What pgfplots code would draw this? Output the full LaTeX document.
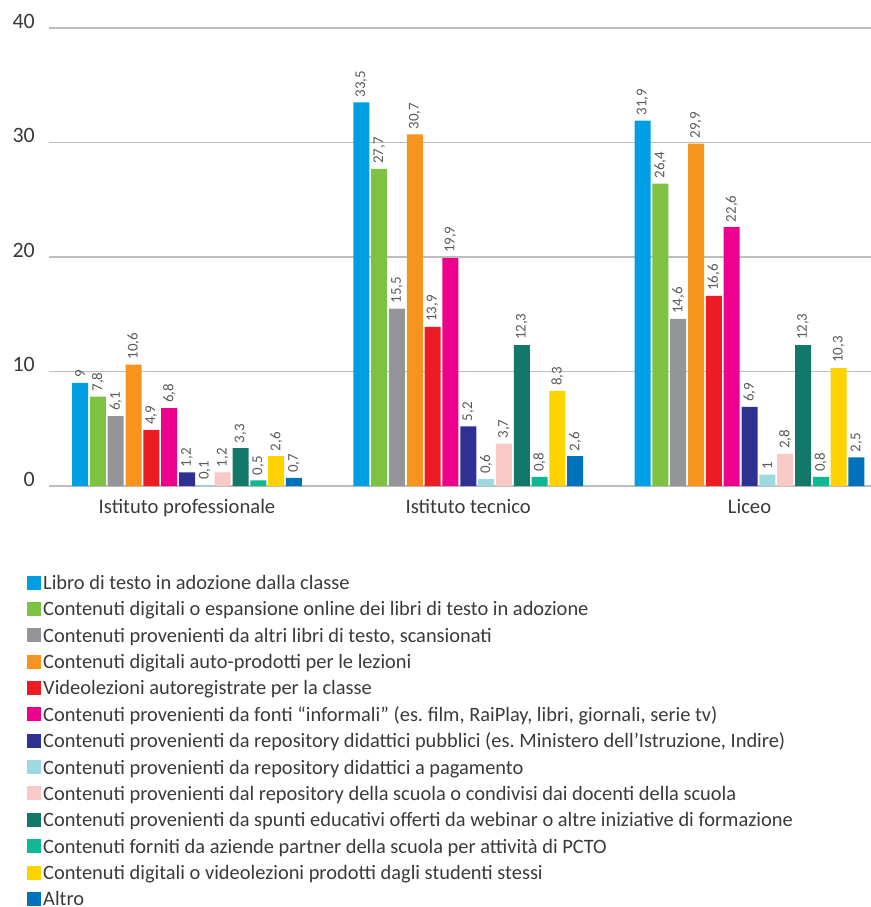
\documentclass[border=0pt]{standalone}
\usepackage{pgfplots}
\pgfplotsset{compat=1.18}
\usepackage{fontspec}
\setmainfont{Carlito}
\definecolor{c1}{HTML}{009FE3}
\definecolor{c2}{HTML}{7DC243}
\definecolor{c3}{HTML}{939598}
\definecolor{c4}{HTML}{F7941D}
\definecolor{c5}{HTML}{ED1C24}
\definecolor{c6}{HTML}{EC008C}
\definecolor{c7}{HTML}{2E3192}
\definecolor{c8}{HTML}{9ED8E0}
\definecolor{c9}{HTML}{F9C9C7}
\definecolor{c10}{HTML}{13776A}
\definecolor{c11}{HTML}{10B795}
\definecolor{c12}{HTML}{FFD200}
\definecolor{c13}{HTML}{0072BC}
\definecolor{txt}{HTML}{3A3A3A}
\definecolor{vtxt}{HTML}{5A5A5A}
\definecolor{grd}{HTML}{BDBDBD}
\begin{document}
\begin{tikzpicture}
\useasboundingbox (-49bp,-421bp) rectangle (822bp,486bp);
\begin{axis}[
  at={(0,0)}, anchor=south west,
  scale only axis, width=822bp, height=458bp,
  xmin=-0.4907, xmax=2.432, ymin=0, ymax=40,
  ybar=1.83bp, bar width=16bp,
  xtick=data, xticklabels={Istituto professionale, Istituto tecnico, Liceo},
  ytick={0,10,20,30,40},
  ymajorgrids, grid style={grd, line width=1.4bp},
  axis line style={draw=none},
  major tick length=0pt,
  tick label style={font=\fontsize{20.7}{22}\selectfont, text=txt},
  yticklabel style={anchor=base east, inner sep=0pt, xshift=-14bp, font=\fontsize{22}{24}\selectfont},
  xticklabel style={anchor=base, inner sep=0pt, yshift=-27.3bp},
  /pgf/number format/.cd, use comma, fixed, precision=1, assume math mode=true,
  /pgfplots/.cd,
  nodes near coords,
  every node near coord/.append style={rotate=90, anchor=west, inner xsep=5bp, inner ysep=0pt, font=\fontsize{15}{16}\selectfont, text=vtxt},
  legend cell align=left,
  legend image code/.code={\fill[#1] (0bp,-6.5bp) rectangle (14bp,7.5bp);},
  legend style={at={(0,0)}, anchor=north west, xshift=-22bp, yshift=-89.3bp,
    draw=none, fill=none, inner sep=0pt, row sep=11.37bp,
    font=\fontsize{20.5}{22}\selectfont, text=txt,
    cells={anchor=west},
    nodes={inner xsep=2bp, inner ysep=0pt, text height=14bp, text depth=1bp}},
]
\addplot[fill=c1, draw=none] coordinates {(0,9) (1,33.5) (2,31.9)};
\addplot[fill=c2, draw=none] coordinates {(0,7.8) (1,27.7) (2,26.4)};
\addplot[fill=c3, draw=none] coordinates {(0,6.1) (1,15.5) (2,14.6)};
\addplot[fill=c4, draw=none] coordinates {(0,10.6) (1,30.7) (2,29.9)};
\addplot[fill=c5, draw=none] coordinates {(0,4.9) (1,13.9) (2,16.6)};
\addplot[fill=c6, draw=none] coordinates {(0,6.8) (1,19.9) (2,22.6)};
\addplot[fill=c7, draw=none] coordinates {(0,1.2) (1,5.2) (2,6.9)};
\addplot[fill=c8, draw=none] coordinates {(0,0.1) (1,0.6) (2,1)};
\addplot[fill=c9, draw=none] coordinates {(0,1.2) (1,3.7) (2,2.8)};
\addplot[fill=c10, draw=none] coordinates {(0,3.3) (1,12.3) (2,12.3)};
\addplot[fill=c11, draw=none] coordinates {(0,0.5) (1,0.8) (2,0.8)};
\addplot[fill=c12, draw=none] coordinates {(0,2.6) (1,8.3) (2,10.3)};
\addplot[fill=c13, draw=none] coordinates {(0,0.7) (1,2.6) (2,2.5)};
\legend{Libro di testo in adozione dalla classe,
Contenuti digitali o espansione online dei libri di testo in adozione,
{Contenuti provenienti da altri libri di testo, scansionati},
Contenuti digitali auto-prodotti per le lezioni,
Videolezioni autoregistrate per la classe,
{Contenuti provenienti da fonti “informali” (es.\ film, RaiPlay, libri, giornali, serie tv)},
{Contenuti provenienti da repository didattici pubblici (es.\ Ministero dell’Istruzione, Indire)},
Contenuti provenienti da repository didattici a pagamento,
Contenuti provenienti dal repository della scuola o condivisi dai docenti della scuola,
Contenuti provenienti da spunti educativi offerti da webinar o altre iniziative di formazione,
Contenuti forniti da aziende partner della scuola per attività di PCTO,
Contenuti digitali o videolezioni prodotti dagli studenti stessi,
Altro}
\end{axis}
\end{tikzpicture}
\end{document}
